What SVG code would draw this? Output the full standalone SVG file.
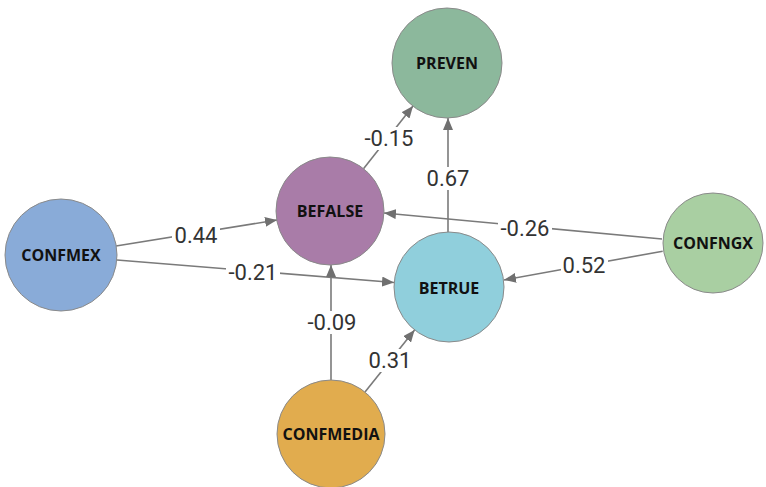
<svg xmlns="http://www.w3.org/2000/svg" width="766" height="487" viewBox="0 0 766 487">
<style>
.node{stroke:#8a8a8a;stroke-width:1}
.nlabel{font-family:"Open Sans","DejaVu Sans",sans-serif;font-weight:bold;font-size:16px;fill:#111;text-anchor:middle;dominant-baseline:central}
.edge{stroke:#7a7a7a;stroke-width:1.6;fill:none}
.elabel{font-family:Roboto,"Liberation Sans",sans-serif;font-size:22px;fill:#333;text-anchor:middle;dominant-baseline:central}
.lbg{fill:#fff}
</style>
<defs>
<marker id="arr" markerUnits="userSpaceOnUse" markerWidth="12" markerHeight="10" refX="12" refY="5" orient="auto">
<path d="M0,0 L12,5 L0,10 z" fill="#707070"/>
</marker>
</defs>
<rect width="766" height="487" fill="#fff"/>
<g id="connectors">
<line class="edge" x1="116" y1="246" x2="277" y2="220" marker-end="url(#arr)"/>
<line class="edge" x1="117" y1="260" x2="394" y2="282.5" marker-end="url(#arr)"/>
<line class="edge" x1="363.5" y1="168.7" x2="413" y2="106" marker-end="url(#arr)"/>
<line class="edge" x1="448" y1="232" x2="448" y2="118" marker-end="url(#arr)"/>
<line class="edge" x1="662" y1="239" x2="384" y2="213" marker-end="url(#arr)"/>
<line class="edge" x1="662.7" y1="251.2" x2="504" y2="280" marker-end="url(#arr)"/>
<line class="edge" x1="331" y1="380" x2="331" y2="265" marker-end="url(#arr)"/>
<line class="edge" x1="365" y1="392" x2="414.6" y2="330" marker-end="url(#arr)"/>
<rect class="lbg" x="172" y="224" width="48" height="23"/>
<text class="elabel" x="196" y="235">0.44</text>
<rect class="lbg" x="226" y="261" width="54" height="23"/>
<text class="elabel" x="253" y="272">-0.21</text>
<rect class="lbg" x="362" y="127" width="54" height="23"/>
<text class="elabel" x="389" y="138">-0.15</text>
<rect class="lbg" x="425" y="167" width="46" height="23"/>
<text class="elabel" x="448" y="178">0.67</text>
<rect class="lbg" x="305" y="311" width="54" height="23"/>
<text class="elabel" x="332" y="322">-0.09</text>
<rect class="lbg" x="368" y="349" width="45" height="23"/>
<text class="elabel" x="390" y="360">0.31</text>
<rect class="lbg" x="498" y="217" width="54" height="23"/>
<text class="elabel" x="525" y="228">-0.26</text>
<rect class="lbg" x="561" y="254" width="47" height="23"/>
<text class="elabel" x="584" y="265">0.52</text>
</g>
<g id="PREVEN">
<circle class="node" cx="447" cy="63" r="55" fill="#8cb89c"/>
<text class="nlabel" x="447" y="63">PREVEN</text>
</g>
<g id="BEFALSE">
<circle class="node" cx="330" cy="211" r="54" fill="#a97ca8"/>
<text class="nlabel" x="330" y="211">BEFALSE</text>
</g>
<g id="CONFMEX">
<circle class="node" cx="61" cy="255" r="56" fill="#89abd8"/>
<text class="nlabel" x="61" y="255">CONFMEX</text>
</g>
<g id="BETRUE">
<circle class="node" cx="449" cy="287" r="55" fill="#90cfdc"/>
<text class="nlabel" x="449" y="288">BETRUE</text>
</g>
<g id="CONFNGX">
<circle class="node" cx="713" cy="243" r="50" fill="#a9cfa2"/>
<text class="nlabel" x="713" y="243">CONFNGX</text>
</g>
<g id="CONFMEDIA">
<circle class="node" cx="331" cy="434" r="54" fill="#e1ac4e"/>
<text class="nlabel" x="331" y="434">CONFMEDIA</text>
</g>
</svg>
